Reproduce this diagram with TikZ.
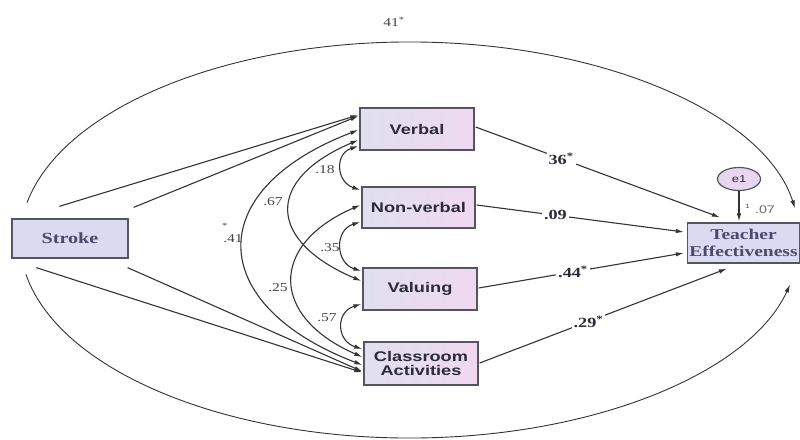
\documentclass[tikz,border=0pt]{standalone}
\usepackage{fontspec}
\setmainfont{Liberation Serif}
\newfontfamily\boxsans{Liberation Sans}[FakeStretch=1.3]
\newfontfamily\boxserif{Liberation Serif}[FakeStretch=1.3]
\usetikzlibrary{arrows.meta,shapes.geometric}
\definecolor{frame}{HTML}{555560}
\definecolor{ink}{HTML}{2B2B3B}
\definecolor{serifink}{HTML}{4A4A6C}
\definecolor{lav}{HTML}{DADAF0}
\definecolor{lavL}{HTML}{E0E0EE}
\definecolor{pinkR}{HTML}{F0D8F0}
\definecolor{eone}{HTML}{E8D6F0}
\definecolor{lineC}{HTML}{333333}
\definecolor{lblC}{HTML}{444444}
\begin{document}
\begin{tikzpicture}[x=1pt,y=-1pt,
  >={Latex[length=8pt,width=4.5pt]},
  conn/.style={draw=lineC, line width=1.1pt},
  arcline/.style={draw=lineC, line width=0.9pt},
  obsbox/.style={draw=frame, line width=1.3pt, inner sep=0pt, rectangle},
  gradbox/.style={obsbox, left color=lavL, right color=pinkR, text=ink,
    minimum width=114pt, minimum height=42pt,
    font=\boxsans\bfseries\fontsize{14}{14.5}\selectfont, align=center},
  serifbox/.style={obsbox, fill=lav, text=serifink,
    font=\boxserif\bfseries\fontsize{15}{17}\selectfont, align=center},
  covlbl/.style={text=lblC, inner sep=0pt, font=\boxserif\fontsize{12}{12}\selectfont},
  pathlbl/.style={text=ink, fill=white, inner sep=2pt, font=\boxserif\bfseries\fontsize{14}{14}\selectfont},
]
\useasboundingbox (0,0) rectangle (800,439);
\clip (0,0) rectangle (800,439);

% nodes
\node[serifbox, minimum width=116pt, minimum height=39pt, font=\boxserif\bfseries\fontsize{15.5}{17}\selectfont] (stroke) at (70,238.5) {Stroke};
\node[gradbox] (verbal) at (417,129) {Verbal};
\node[gradbox, minimum width=113pt, minimum height=41pt] (nonverbal) at (418.5,207.5) {Non-verbal};
\node[gradbox] (valuing) at (420,289) {Valuing};
\node[gradbox, minimum height=43pt] (classroom) at (421,363.5) {Classroom\\Activities};
\node[serifbox, minimum width=112pt, minimum height=40pt] (te) at (743.5,243) {Teacher\\Effectiveness};
\node[ellipse, draw=frame, line width=1.2pt, fill=eone, minimum width=43pt, minimum height=23pt, inner sep=0pt,
  text=ink, font=\boxsans\fontsize{10}{10}\selectfont] (e1) at (739,179) {e1};

% big ellipse arcs (Stroke <-> Teacher Effectiveness)
\coordinate (ec) at (410,240);
\draw[arcline,->] ([shift={(190.9:390 and 198)}]ec) arc[start angle=190.9, end angle=350.8, x radius=390, y radius=198];
\draw[arcline,->] ([shift={(170:390 and 198)}]ec) arc[start angle=170, end angle=13, x radius=390, y radius=198];
\node[covlbl] (toplbl) at (394,22) {41\textsuperscript{*}};

% Stroke -> Verbal / Classroom
\draw[conn,->] ([shift={(48,-12)}]stroke.north west) -- ([shift={(-1,-14)}]verbal.west);
\draw[conn,->] ([shift={(5,-11)}]stroke.north east) -- ([shift={(-1,-13)}]verbal.west);
\draw[conn,->] ([shift={(-1,9)}]stroke.south east) -- ([shift={(-1,8)}]classroom.west);
\draw[conn,->] ([shift={(25,9)}]stroke.south west) -- ([shift={(-1,9)}]classroom.west);

% covariances
\draw[conn,<->] ([shift={(-1,1)}]verbal.west) .. controls +(-157,60) and +(-157,-60) .. ([shift={(-1,1.5)}]classroom.west);
\draw[conn,<->] ([shift={(-1,11)}]verbal.west) .. controls +(-94,40) and +(-94,-40) .. ([shift={(-1,-8)}]valuing.west);
\draw[conn,<->] ([shift={(-1,-2.5)}]nonverbal.west) .. controls +(-92,40) and +(-92,-40) .. ([shift={(-1,-6.5)}]classroom.west);
\draw[conn,<->] ([shift={(-1,17)}]verbal.west) .. controls +(-24,8) and +(-24,-8) .. ([shift={(-1,-17.5)}]nonverbal.west);
\draw[conn,<->] ([shift={(-1,14.5)}]nonverbal.west) .. controls +(-26,8) and +(-26,-8) .. ([shift={(-1,-18)}]valuing.west);
\draw[conn,<->] ([shift={(-1,15)}]valuing.west) .. controls +(-26,8) and +(-26,-8) .. ([shift={(-1,-14.5)}]classroom.west);

\node[covlbl] (l18) at (325,170) {.18};
\node[covlbl] (l67) at (273,202) {.67};
\node[covlbl, font=\boxserif\fontsize{8}{8}\selectfont] (l41s) at (225,226) {*};
\node[covlbl] (l41) at (233,239) {.41};
\node[covlbl] (l35) at (330,248) {.35};
\node[covlbl] (l25) at (278,288) {.25};
\node[covlbl] (l57) at (327,318) {.57};

% paths to Teacher Effectiveness
\draw[conn,->] ([shift={(1,-2)}]verbal.east) -- node[pathlbl, pos=0.35] {36\textsuperscript{*}} ([shift={(33,-5)}]te.north west);
\draw[conn,->] ([shift={(1,-2.5)}]nonverbal.east) -- node[pathlbl, pos=0.38] {.09} ([shift={(-3,-11)}]te.west);
\draw[conn,->] ([shift={(1,-1)}]valuing.east) -- node[pathlbl, pos=0.46] {.44\textsuperscript{*}} ([shift={(-3,10)}]te.west);
\draw[conn,->] ([shift={(1,-0.5)}]classroom.east) -- node[pathlbl, pos=0.44] {.29\textsuperscript{*}} ([shift={(40,5)}]te.south west);

% error term
\draw[conn,->] (e1.south) -- ([shift={(-4.5,-1)}]te.north);
\node[text=lblC, inner sep=0pt, font=\boxsans\fontsize{6}{6}\selectfont] (one) at (747.5,206) {1};
\node[text=lblC!80, inner sep=0pt, font=\boxsans\fontsize{11}{11}\selectfont] (r2) at (765,210) {.07};
\end{tikzpicture}
\end{document}
